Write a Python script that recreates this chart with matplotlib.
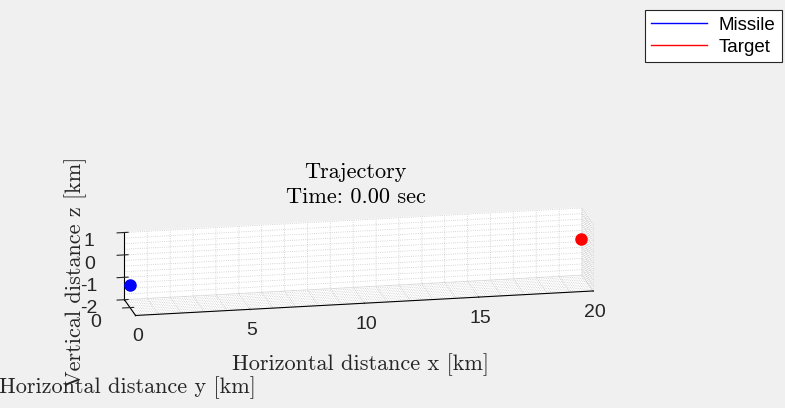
import numpy as np
import matplotlib.pyplot as plt
from matplotlib.ticker import MultipleLocator

# positions at t = 0 [km]
missile_x = [0.0]
missile_y = [0.0]
missile_z = [-1.0]
target_x = [19.7]
target_y = [0.0]
target_z = [0.0]
t_now = 0.00

x_ticks = [0, 5, 10, 15, 20]
y_ticks = [0]
z_ticks = [-2, -1, 0, 1]

plt.rcParams['font.family'] = ['Liberation Sans', 'DejaVu Sans']
plt.rcParams['axes.unicode_minus'] = False
for k in ('xtick', 'ytick'):
    plt.rcParams[k + '.minor.width'] = 0
    plt.rcParams[k + '.minor.size'] = 0

fig = plt.figure(figsize=(7.85, 4.08), dpi=100)
fig.patch.set_facecolor('#f0f0f0')
ax = fig.add_axes([0.0, -0.155, 0.9, 1.0], projection='3d')
ax.set_facecolor('none')
ax.set_proj_type('ortho')
ax.view_init(elev=16, azim=-101)

# trajectories (only one sample so far) + current positions
l1, = ax.plot(missile_x, missile_y, missile_z, color='blue', lw=1, label='Missile')
l2, = ax.plot(target_x, target_y, target_z, color='red', lw=1, label='Target')
# clip_on=False, otherwise the dots disappear with this axes position
ax.plot(missile_x, missile_y, missile_z, 'o', color='blue', ms=8, clip_on=False, zorder=10)
ax.plot(target_x, target_y, target_z, 'o', color='red', ms=8, clip_on=False, zorder=10)

ax.set_xlim(0, 20)
ax.set_ylim(-1.25, 1.25)
ax.set_zlim(-2, 1)
ax.set_box_aspect((20, 2.5, 3), zoom=1.13)

ax.set_xticks(x_ticks)
ax.set_yticks(y_ticks)
ax.set_zticks(z_ticks)
# minor grid like MATLAB (no minor tick marks)
ax.xaxis.set_minor_locator(MultipleLocator(1))
ax.yaxis.set_minor_locator(MultipleLocator(0.25))
ax.zaxis.set_minor_locator(MultipleLocator(0.25))

for axis in (ax.xaxis, ax.yaxis, ax.zaxis):
    axis.set_pane_color((1, 1, 1, 1))
    axis._axinfo['grid']['color'] = (0.78, 0.78, 0.78, 1)
    axis._axinfo['grid']['linewidth'] = 0.6
    axis._axinfo['grid']['linestyle'] = ':'

ax.tick_params(labelsize=14, colors='#262626')
ax.tick_params(which='minor', width=0, length=0)
ax.tick_params(axis='x', pad=16)

fig.text(0.453, 1 - 172 / 408, 'Trajectory', family='cmr10', fontsize=16,
         ha='center', va='center')
fig.text(0.453, 1 - 197 / 408, 'Time: %.2f sec' % t_now, family='cmr10', fontsize=16,
         ha='center', va='center')
fig.text(361 / 785, 1 - 365 / 408, 'Horizontal distance x [km]', family='cmr10',
         fontsize=16, ha='center', va='center', color='#262626')
fig.text(127 / 785, 1 - 388 / 408, 'Horizontal distance y [km]', family='cmr10',
         fontsize=16, ha='center', va='center', color='#262626')
fig.text(76 / 785, 1 - 272 / 408, 'Vertical distance z [km]', family='cmr10',
         fontsize=16, ha='center', va='center', rotation=90, color='#262626')

leg = fig.legend(handles=[l1, l2], loc='upper right', bbox_to_anchor=(782 / 785, 1 - 10 / 408),
                 borderaxespad=0, fancybox=False, edgecolor='#262626', framealpha=1,
                 fontsize=13.5, handlelength=3.0, borderpad=0.35, labelspacing=0.25,
                 handletextpad=0.6)
leg.get_frame().set_linewidth(0.8)

fig.savefig('out.png', dpi=100, facecolor=fig.get_facecolor())
